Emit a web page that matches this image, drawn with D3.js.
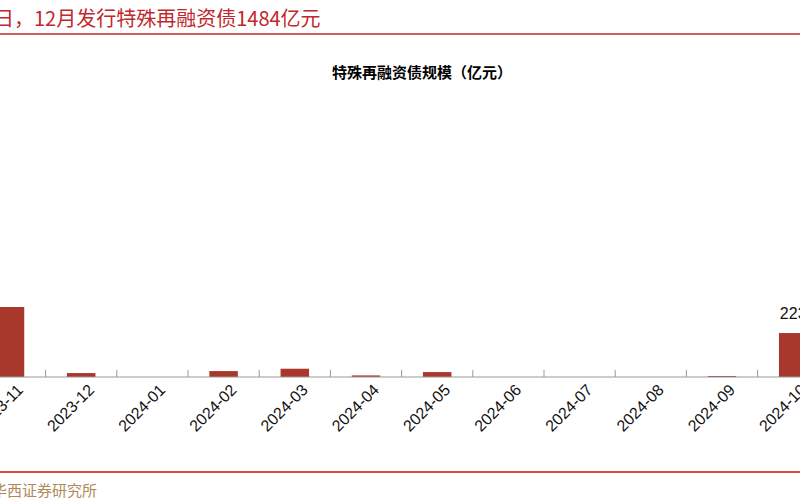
<!DOCTYPE html>
<html><head><meta charset="utf-8">
<script src="https://cdn.jsdelivr.net/npm/d3@7"></script>
<style>body{margin:0;background:#fff;}svg{display:block;font-family:"Liberation Sans",Arial,sans-serif;}</style>
</head><body>
<script>
// months and issued amount (亿元)
var months= ['2023-11','2023-12','2024-01','2024-02','2024-03','2024-04','2024-05','2024-06','2024-07','2024-08','2024-09','2024-10'];
var values= [355, 20, 0, 30, 42, 8, 25, 0, 0, 0, 5, 223];
var labelled= ['2024-10'];

var W= 800, H= 500, baseY= 377;
var svg= d3.select('body').append('svg').attr('width',W).attr('height',H);

// header
svg.append('text').attr('x',-6).attr('y',26)
    .attr('fill','#c0282d').attr('font-size',20)
    .attr('font-family','"Noto Sans CJK SC",sans-serif')
    .text('日，12月发行特殊再融资债1484亿元');
svg.append('line').attr('x1',0).attr('x2',W).attr('y1',34).attr('y2',34)
    .attr('stroke','#c0282d').attr('stroke-width',1.5);
svg.append('text').attr('x',422).attr('y',78).attr('text-anchor','middle')
    .attr('font-size',15).attr('font-weight','bold')
    .attr('font-family','"Noto Sans CJK SC",sans-serif')
    .text('特殊再融资债规模（亿元）');

var step= 71.2, c0= 10;
var x= d3.scaleBand().domain(months)
    .range([c0-step/2, c0-step/2+step*months.length])
    .paddingInner(0.6).paddingOuter(0.3);
var y= d3.scaleLinear().domain([0,1400]).range([baseY,101]);

svg.selectAll('rect.bar').data(months).enter().append('rect')
    .attr('class','bar')
    .attr('x',function(d){return x(d);})
    .attr('width',x.bandwidth())
    .attr('y',function(d,i){return y(values[i]);})
    .attr('height',function(d,i){return baseY-y(values[i]);})
    .attr('fill','#a9382c');

// axis
svg.append('line').attr('x1',0).attr('x2',W).attr('y1',baseY).attr('y2',baseY)
    .attr('stroke','#999').attr('stroke-width',1);
months.forEach(function(m){
    var cx= x(m)+x.bandwidth()/2;
    var tx= cx+x.step()/2;
    svg.append('line').attr('x1',tx).attr('x2',tx).attr('y1',baseY).attr('y2',baseY-7)
	.attr('stroke','#999');
    svg.append('text').attr('transform','translate('+(cx+14)+','+(baseY+14)+') rotate(-45)')
	.attr('text-anchor','end').attr('font-size',16).attr('fill','#111').text(m);
});

svg.selectAll('text.val').data(months.filter(function(m){return labelled.indexOf(m)>=0;}))
    .enter().append('text').attr('class','val')
    .attr('x',function(d){return x(d)+x.bandwidth()/2;})
    .attr('y',function(d){return y(values[months.indexOf(d)])-14;})
    .attr('text-anchor','middle').attr('font-size',16).attr('fill','#111')
    .text(function(d){return values[months.indexOf(d)];});

// footer
svg.append('line').attr('x1',0).attr('x2',W).attr('y1',472).attr('y2',472)
    .attr('stroke','#d94a3f').attr('stroke-width',2);
svg.append('text').attr('x',-8).attr('y',496).attr('font-size',15)
    .attr('fill','#b08a5a').attr('font-family','"Noto Sans CJK SC",serif')
    .text('华西证券研究所');
</script>
</body></html>
